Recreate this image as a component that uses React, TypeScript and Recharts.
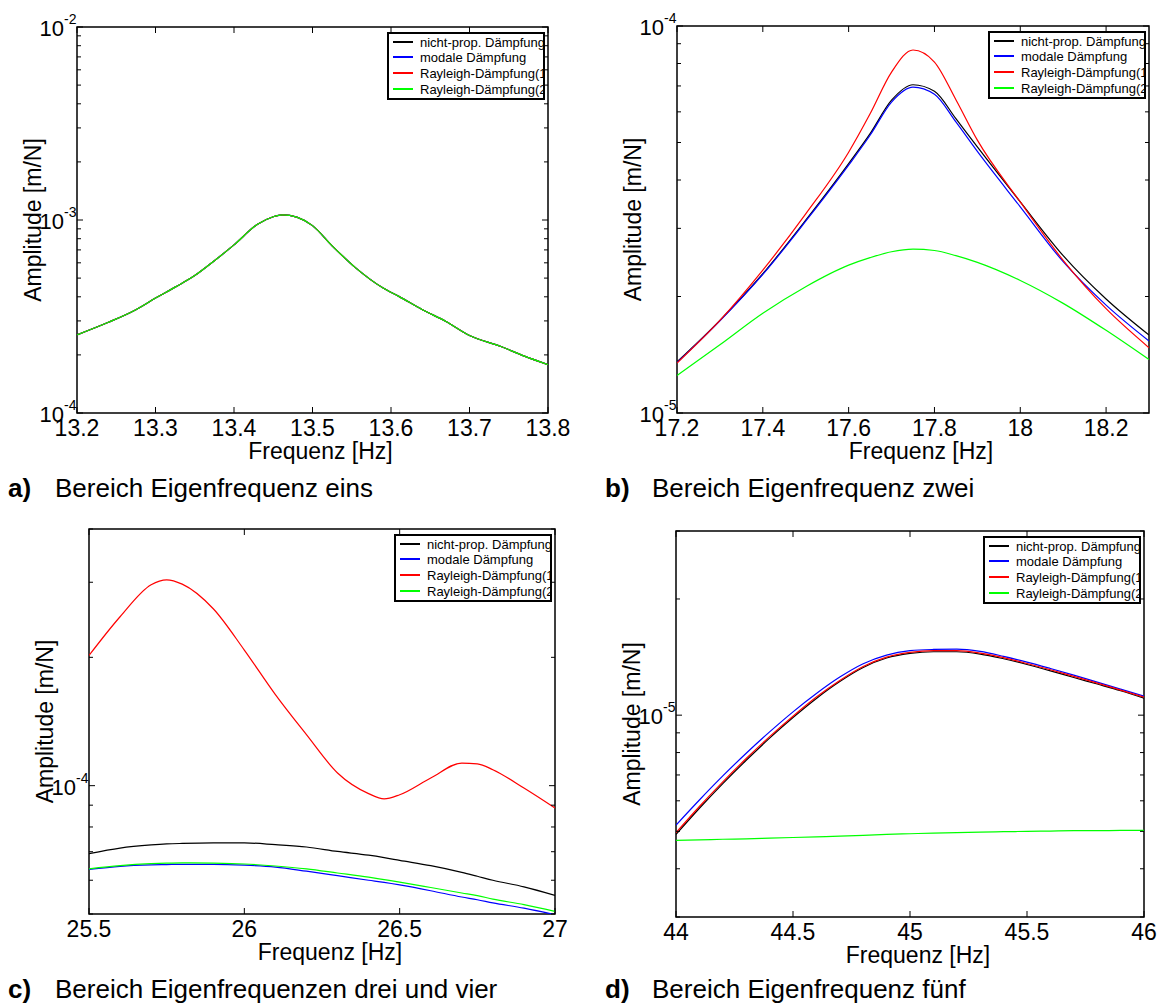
import { LineChart, Line, XAxis, YAxis, Legend, ReferenceArea, Label } from "recharts";

// a) Bereich Eigenfrequenz eins – alle vier Modelle liegen übereinander
const freqA = [13.2, 13.24, 13.275, 13.3, 13.325, 13.35, 13.375, 13.4, 13.43, 13.45, 13.462, 13.48, 13.5, 13.525, 13.555, 13.59, 13.61, 13.64, 13.67, 13.7, 13.74, 13.77, 13.8];
const ampA = [2.54e-4, 2.95e-4, 3.43e-4, 3.94e-4, 4.49e-4, 5.15e-4, 6.15e-4, 7.43e-4, 9.5e-4, 1.04e-3, 1.064e-3, 1.035e-3, 9.35e-4, 7.35e-4, 5.65e-4, 4.44e-4, 4.02e-4, 3.43e-4, 2.98e-4, 2.52e-4, 2.21e-4, 1.97e-4, 1.78e-4];

// b) Bereich Eigenfrequenz zwei
const freqB = [17.2, 17.3, 17.4, 17.5, 17.6, 17.65, 17.7, 17.75, 17.8, 17.85, 17.9, 18.0, 18.1, 18.2, 18.3];
const nichtB = [1.355e-5, 1.735e-5, 2.29e-5, 3.15e-5, 4.41e-5, 5.27e-5, 6.43e-5, 7.05e-5, 6.78e-5, 5.76e-5, 4.87e-5, 3.51e-5, 2.55e-5, 1.97e-5, 1.59e-5];
const modalB = [1.35e-5, 1.73e-5, 2.28e-5, 3.13e-5, 4.37e-5, 5.22e-5, 6.36e-5, 6.95e-5, 6.66e-5, 5.65e-5, 4.74e-5, 3.41e-5, 2.46e-5, 1.9e-5, 1.535e-5];
const ray1B = [1.346e-5, 1.735e-5, 2.34e-5, 3.27e-5, 4.72e-5, 5.93e-5, 7.6e-5, 8.67e-5, 8.07e-5, 6.45e-5, 5.07e-5, 3.51e-5, 2.48e-5, 1.86e-5, 1.475e-5];
const ray2B = [1.25e-5, 1.5e-5, 1.81e-5, 2.12e-5, 2.41e-5, 2.52e-5, 2.61e-5, 2.65e-5, 2.63e-5, 2.55e-5, 2.45e-5, 2.2e-5, 1.92e-5, 1.635e-5, 1.374e-5];

// c) Bereich Eigenfrequenzen drei und vier
const freqC = [25.5, 25.6, 25.7, 25.75, 25.8, 25.9, 26.0, 26.1, 26.2, 26.3, 26.4, 26.45, 26.5, 26.6, 26.7, 26.75, 26.8, 26.9, 27.0];
const nichtC = [6.93e-5, 7.14e-5, 7.26e-5, 7.3e-5, 7.32e-5, 7.34e-5, 7.34e-5, 7.27e-5, 7.18e-5, 7.01e-5, 6.87e-5, 6.78e-5, 6.68e-5, 6.49e-5, 6.26e-5, 6.13e-5, 6.0e-5, 5.79e-5, 5.53e-5];
const modalC = [6.36e-5, 6.47e-5, 6.52e-5, 6.53e-5, 6.54e-5, 6.54e-5, 6.51e-5, 6.44e-5, 6.3e-5, 6.15e-5, 6.0e-5, 5.93e-5, 5.85e-5, 5.67e-5, 5.48e-5, 5.4e-5, 5.31e-5, 5.16e-5, 4.98e-5];
const ray1C = [2.02e-4, 2.49e-4, 2.96e-4, 3.04e-4, 2.97e-4, 2.6e-4, 2.08e-4, 1.635e-4, 1.317e-4, 1.071e-4, 9.58e-5, 9.31e-5, 9.52e-5, 1.042e-4, 1.13e-4, 1.125e-4, 1.09e-4, 9.87e-5, 8.86e-5];
const ray2C = [6.38e-5, 6.49e-5, 6.56e-5, 6.58e-5, 6.59e-5, 6.58e-5, 6.55e-5, 6.48e-5, 6.38e-5, 6.24e-5, 6.1e-5, 6.02e-5, 5.94e-5, 5.77e-5, 5.6e-5, 5.52e-5, 5.42e-5, 5.26e-5, 5.07e-5];

// d) Bereich Eigenfrequenz fünf
const freqD = [44.0, 44.1, 44.2, 44.3, 44.4, 44.5, 44.6, 44.7, 44.8, 44.9, 45.0, 45.1, 45.2, 45.3, 45.4, 45.5, 45.6, 45.7, 45.8, 45.9, 46.0];
const nichtD = [4.91e-6, 5.74e-6, 6.65e-6, 7.64e-6, 8.72e-6, 9.86e-6, 1.105e-5, 1.222e-5, 1.329e-5, 1.406e-5, 1.445e-5, 1.46e-5, 1.46e-5, 1.44e-5, 1.4e-5, 1.353e-5, 1.303e-5, 1.252e-5, 1.204e-5, 1.157e-5, 1.107e-5];
const modalD = [5.19e-6, 6.03e-6, 6.96e-6, 7.97e-6, 9.05e-6, 1.02e-5, 1.138e-5, 1.255e-5, 1.359e-5, 1.431e-5, 1.469e-5, 1.48e-5, 1.483e-5, 1.463e-5, 1.42e-5, 1.372e-5, 1.321e-5, 1.27e-5, 1.218e-5, 1.168e-5, 1.12e-5];
const ray1D = [4.96e-6, 5.8e-6, 6.72e-6, 7.72e-6, 8.8e-6, 9.94e-6, 1.114e-5, 1.23e-5, 1.337e-5, 1.414e-5, 1.454e-5, 1.469e-5, 1.469e-5, 1.448e-5, 1.409e-5, 1.361e-5, 1.311e-5, 1.26e-5, 1.211e-5, 1.161e-5, 1.114e-5];
const ray2D = [4.74e-6, 4.75e-6, 4.77e-6, 4.78e-6, 4.8e-6, 4.82e-6, 4.84e-6, 4.86e-6, 4.88e-6, 4.91e-6, 4.93e-6, 4.95e-6, 4.96e-6, 4.98e-6, 4.99e-6, 5.0e-6, 5.01e-6, 5.02e-6, 5.02e-6, 5.03e-6, 5.03e-6];

// Achsenteilung
const xTicksA = [13.2, 13.3, 13.4, 13.5, 13.6, 13.7, 13.8];
const xTicksB = [17.2, 17.4, 17.6, 17.8, 18, 18.2];
const xTicksC = [25.5, 26, 26.5, 27];
const xTicksD = [44, 44.5, 45, 45.5, 46];
const yTicksA = [1e-4, 2e-4, 3e-4, 4e-4, 5e-4, 6e-4, 7e-4, 8e-4, 9e-4, 1e-3, 2e-3, 3e-3, 4e-3, 5e-3, 6e-3, 7e-3, 8e-3, 9e-3, 1e-2];
const yTicksB = [1e-5, 2e-5, 3e-5, 4e-5, 5e-5, 6e-5, 7e-5, 8e-5, 9e-5, 1e-4];
const yTicksC = [5e-5, 6e-5, 7e-5, 8e-5, 9e-5, 1e-4, 2e-4, 3e-4, 4e-4];
const yTicksD = [3e-6, 4e-6, 5e-6, 6e-6, 7e-6, 8e-6, 9e-6, 1e-5, 2e-5, 3e-5];

const seriesNames = ["nicht-prop. Dämpfung", "modale Dämpfung", "Rayleigh-Dämpfung(1)", "Rayleigh-Dämpfung(2)"];
const seriesColors = ["#000000", "#0000ff", "#ff0000", "#00ff00"];

const FONT = '"Liberation Sans", Arial, Helvetica, sans-serif';

type Row = { f: number; s0: number; s1: number; s2: number; s3: number };

function buildRows(freq: number[], s0: number[], s1: number[], s2: number[], s3: number[]): Row[] {
  return freq.map((f, i) => ({ f, s0: s0[i], s1: s1[i], s2: s2[i], s3: s3[i] }));
}

type PanelProps = {
  left: number;
  top: number;
  width: number;
  height: number;
  plot: { l: number; t: number; r: number; b: number };
  data: Row[];
  xDomain: [number, number];
  xTicks: number[];
  yDomain: [number, number];
  yTicks: number[];
};

// log-Achse: Dekaden beschriftet, Zwischenstriche innen links und rechts
function YTick(props: any) {
  const { x, y, payload, plotW } = props;
  const v = payload.value as number;
  const lg = Math.log10(v);
  const exp = Math.round(lg);
  const major = Math.abs(lg - exp) < 1e-6;
  const len = major ? 6 : 4;
  return (
    <g>
      <line x1={x} x2={x + len} y1={y} y2={y} stroke="#000" strokeWidth={1} />
      <line x1={x + plotW - len} x2={x + plotW} y1={y} y2={y} stroke="#000" strokeWidth={1} />
      {major && (
        <g fill="#000">
          <text x={x - 13} y={y + 9} textAnchor="end" fontSize={22}>10</text>
          <text x={x - 13} y={y - 3} textAnchor="start" fontSize={14}>{String(exp)}</text>
        </g>
      )}
    </g>
  );
}

function XTick(props: any) {
  const { x, y, payload, plotH } = props;
  return (
    <g>
      <line x1={x} x2={x} y1={y} y2={y - 6} stroke="#000" strokeWidth={1} />
      <line x1={x} x2={x} y1={y - plotH} y2={y - plotH + 6} stroke="#000" strokeWidth={1} />
      <text x={x} y={y + 23} textAnchor="middle" fontSize={23} fill="#000">
        {String(payload.value)}
      </text>
    </g>
  );
}

const legendRowTop = [0, 15, 31, 47];

function LegendBox({ payload }: any) {
  // Reihenfolge wie die Serien, nicht alphabetisch
  const items = [...(payload || [])].sort(
    (a: any, b: any) => seriesNames.indexOf(a.value) - seriesNames.indexOf(b.value)
  );
  return (
    <div
      style={{
        position: "relative",
        width: 154,
        height: 64,
        border: "2px solid #000",
        background: "#fff",
        overflow: "hidden",
        fontSize: 13,
        fontFamily: FONT,
        color: "#000",
      }}
    >
      {items.map((entry: any, i: number) => (
        <div
          key={entry.value}
          style={{
            position: "absolute",
            left: 4,
            top: legendRowTop[i],
            height: 16,
            display: "flex",
            alignItems: "center",
            whiteSpace: "nowrap",
          }}
        >
          <span
            style={{
              display: "inline-block",
              width: 20,
              height: 2,
              background: seriesColors[seriesNames.indexOf(entry.value)],
              marginRight: 7,
            }}
          />
          <span>{entry.value}</span>
        </div>
      ))}
    </div>
  );
}

function Panel({ left, top, width, height, plot, data, xDomain, xTicks, yDomain, yTicks }: PanelProps) {
  const plotW = plot.r - plot.l;
  const plotH = plot.b - plot.t;
  const keys = ["s0", "s1", "s2", "s3"];

  return (
    <div style={{ position: "absolute", left, top }}>
      <LineChart
        width={width}
        height={height}
        data={data}
        margin={{ top: plot.t, right: width - plot.r, bottom: 0, left: 0 }}
      >
        <XAxis
          dataKey="f"
          type="number"
          domain={xDomain}
          ticks={xTicks}
          interval={0}
          allowDataOverflow
          height={height - plot.b}
          tickSize={0}
          tickMargin={0}
          axisLine={false}
          tick={(p: any) => <XTick {...p} plotH={plotH} />}
        >
          <Label
            content={({ viewBox }: any) => (
              <text
                x={viewBox.x + viewBox.width / 2 + 8}
                y={viewBox.y + 46}
                textAnchor="middle"
                fontSize={23}
                fill="#000"
              >
                Frequenz [Hz]
              </text>
            )}
          />
        </XAxis>
        <YAxis
          type="number"
          scale="log"
          domain={yDomain}
          ticks={yTicks}
          interval={0}
          allowDataOverflow
          width={plot.l}
          tickSize={0}
          tickMargin={0}
          axisLine={false}
          tick={(p: any) => <YTick {...p} plotW={plotW} />}
        >
          <Label
            content={({ viewBox }: any) => {
              const cx = viewBox.x + viewBox.width - 44;
              const cy = viewBox.y + viewBox.height / 2;
              return (
                <text
                  x={cx}
                  y={cy}
                  transform={`rotate(-90 ${cx} ${cy})`}
                  textAnchor="middle"
                  dominantBaseline="central"
                  fontSize={23}
                  fill="#000"
                >
                  Amplitude [m/N]
                </text>
              );
            }}
          />
        </YAxis>
        <ReferenceArea
          x1={xDomain[0]}
          x2={xDomain[1]}
          y1={yDomain[0]}
          y2={yDomain[1]}
          fill="none"
          fillOpacity={0}
          stroke="#000"
          strokeWidth={1.5}
          ifOverflow="visible"
        />
        {keys.map((k, i) => (
          <Line
            key={k}
            type="monotone"
            dataKey={k}
            name={seriesNames[i]}
            stroke={seriesColors[i]}
            strokeWidth={1.2}
            dot={false}
            activeDot={false}
            isAnimationActive={false}
          />
        ))}
        <Legend
          layout="vertical"
          align="center"
          verticalAlign="middle"
          content={<LegendBox />}
          wrapperStyle={{ left: plot.r - 161, top: plot.t + 5, width: 158, height: 68 }}
        />
      </LineChart>
    </div>
  );
}

function Caption({ left, top, tag, text }: { left: number; top: number; tag: string; text: string }) {
  return (
    <div style={{ position: "absolute", left, top, fontSize: 26, lineHeight: "26px", whiteSpace: "nowrap" }}>
      <b>{tag}</b>
      <span style={{ position: "absolute", left: 47, top: 0 }}>{text}</span>
    </div>
  );
}

export default function App() {
  const rowsA = buildRows(freqA, ampA, ampA, ampA, ampA);
  const rowsB = buildRows(freqB, nichtB, modalB, ray1B, ray2B);
  const rowsC = buildRows(freqC, nichtC, modalC, ray1C, ray2C);
  const rowsD = buildRows(freqD, nichtD, modalD, ray1D, ray2D);

  return (
    <div
      style={{
        position: "absolute",
        left: 0,
        top: 0,
        width: 1167,
        height: 1005,
        background: "#fff",
        overflow: "hidden",
        fontFamily: FONT,
        color: "#000",
      }}
    >
      <Panel
        left={0}
        top={0}
        width={580}
        height={480}
        plot={{ l: 77, t: 27, r: 548, b: 413 }}
        data={rowsA}
        xDomain={[13.2, 13.8]}
        xTicks={xTicksA}
        yDomain={[1e-4, 1e-2]}
        yTicks={yTicksA}
      />
      <Panel
        left={580}
        top={0}
        width={587}
        height={480}
        plot={{ l: 97, t: 26, r: 569, b: 413 }}
        data={rowsB}
        xDomain={[17.2, 18.3]}
        xTicks={xTicksB}
        yDomain={[1e-5, 1e-4]}
        yTicks={yTicksB}
      />
      <Panel
        left={0}
        top={490}
        width={580}
        height={515}
        plot={{ l: 89, t: 39, r: 555, b: 424 }}
        data={rowsC}
        xDomain={[25.5, 27]}
        xTicks={xTicksC}
        yDomain={[5e-5, 4e-4]}
        yTicks={yTicksC}
      />
      <Panel
        left={580}
        top={490}
        width={587}
        height={515}
        plot={{ l: 96, t: 41, r: 564, b: 427 }}
        data={rowsD}
        xDomain={[44, 46]}
        xTicks={xTicksD}
        yDomain={[3e-6, 3e-5]}
        yTicks={yTicksD}
      />
      <Caption left={8} top={475} tag="a)" text="Bereich Eigenfrequenz eins" />
      <Caption left={605} top={475} tag="b)" text="Bereich Eigenfrequenz zwei" />
      <Caption left={8} top={976} tag="c)" text="Bereich Eigenfrequenzen drei und vier" />
      <Caption left={605} top={976} tag="d)" text="Bereich Eigenfrequenz fünf" />
    </div>
  );
}
